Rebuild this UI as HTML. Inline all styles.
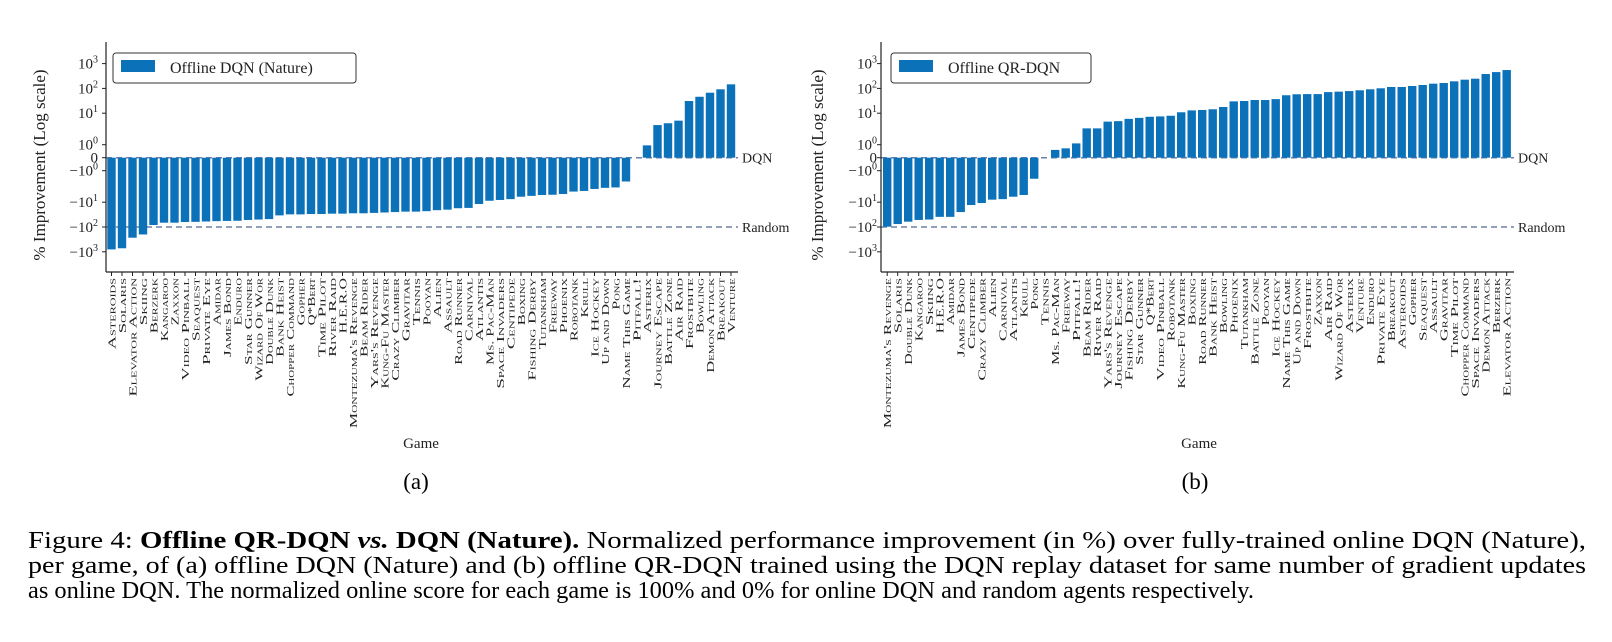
<!DOCTYPE html>
<html><head><meta charset="utf-8">
<style>
html,body{margin:0;padding:0;background:#fff;}
svg{display:block;font-family:"Liberation Serif",serif;}
</style></head>
<body>
<svg id="fig" width="1612" height="642" viewBox="0 0 1612 642" xmlns="http://www.w3.org/2000/svg">
  <g id="panelA"></g>
  <g id="panelB"></g>
  <text x="416" y="489" font-size="23" text-anchor="middle">(a)</text>
  <text x="1195" y="489" font-size="23" text-anchor="middle">(b)</text>
  <g font-size="24">
    <text x="28" y="548" textLength="1558" lengthAdjust="spacingAndGlyphs">Figure 4: <tspan font-weight="bold">Offline QR-DQN <tspan font-style="italic">vs.</tspan> DQN (Nature).</tspan> Normalized performance improvement (in %) over fully-trained online DQN (Nature),</text>
    <text x="28" y="573" textLength="1558" lengthAdjust="spacingAndGlyphs">per game, of (a) offline DQN (Nature) and (b) offline QR-DQN trained using the DQN replay dataset for same number of gradient updates</text>
    <text x="28" y="598" textLength="1226" lengthAdjust="spacingAndGlyphs">as online DQN. The normalized online score for each game is 100% and 0% for online DQN and random agents respectively.</text>
  </g>
</svg>
<script>
const gamesA = ["Asteroids","Solaris","Elevator Action","Skiing","Berzerk","Kangaroo","Zaxxon","Video Pinball","Seaquest","Private Eye","Amidar","James Bond","Enduro","Star Gunner","Wizard Of Wor","Double Dunk","Bank Heist","Chopper Command","Gopher","Q*Bert","Time Pilot","River Raid","H.E.R.O","Montezuma's Revenge","Beam Rider","Yars's Revenge","Kung-Fu Master","Crazy Climber","Gravitar","Tennis","Pooyan","Alien","Assault","Road Runner","Carnival","Atlantis","Ms. Pac-Man","Space Invaders","Centipede","Boxing","Fishing Derby","Tutankham","Freeway","Phoenix","Robotank","Krull","Ice Hockey","Up and Down","Pong","Name This Game","Pitfall!","Asterix","Journey Escape","Battle Zone","Air Raid","Frostbite","Bowling","Demon Attack","Breakout","Venture"];
const valuesA = [-800,-720,-270,-200,-83,-67,-67,-63,-62,-60,-58,-57,-56,-52,-50,-48,-34,-31,-31,-30,-30,-29,-29,-28,-28,-27,-26,-25,-24,-24,-23,-21,-20,-17.5,-17,-11.8,-9,-8.5,-8,-6.7,-6.3,-5.9,-5.8,-5.5,-4.6,-4.4,-3.8,-3.5,-3.4,-2.2,0,0.95,4.2,4.8,5.8,31,46,67,92,146];
const gamesB = ["Montezuma's Revenge","Solaris","Double Dunk","Kangaroo","Skiing","H.E.R.O","Amidar","James Bond","Centipede","Crazy Climber","Alien","Carnival","Atlantis","Krull","Pong","Tennis","Ms. Pac-Man","Freeway","Pitfall!","Beam Rider","River Raid","Yars's Revenge","Journey Escape","Fishing Derby","Star Gunner","Q*Bert","Video Pinball","Robotank","Kung-Fu Master","Boxing","Road Runner","Bank Heist","Bowling","Phoenix","Tutankham","Battle Zone","Pooyan","Ice Hockey","Name This Game","Up and Down","Frostbite","Zaxxon","Air Raid","Wizard Of Wor","Asterix","Venture","Enduro","Private Eye","Breakout","Asteroids","Gopher","Seaquest","Assault","Gravitar","Time Pilot","Chopper Command","Space Invaders","Demon Attack","Berzerk","Elevator Action"];
const valuesB = [-97,-76,-61,-52,-50,-39,-39,-25,-13,-10.8,-8.3,-8,-6.7,-5.9,-1.8,0,0.6,0.72,1.1,3.3,3.3,5.4,5.6,6.6,7.1,7.7,7.9,8.3,10.9,13,13.5,14.4,17.8,30,31,34,34,37,53,58,59,59,71,74,78,84,92,101,114,114,125,137,155,165,193,225,246,380,455,550];
const yTickVals = [1000,100,10,1,0,-1,-10,-100,-1000];
const yTickExp = ["3","2","1","0","","0","1","2","3"];

const NS = "http://www.w3.org/2000/svg";
const Y0 = 157.7, YTOP = 42, YBOT = 272;
const BAR = "#0b72ba", DASH = "#6f80a6";

function yPix(v){
  const a = Math.abs(v);
  let h;
  if (a <= 1) h = 13*a;
  else if (a <= 10) h = 13 + 31.5*Math.log10(a);
  else h = 44.5 + 24.8*(Math.log10(a)-1);
  return Y0 - Math.sign(v)*h;
}
function mk(tag, attrs, parent){
  const e = document.createElementNS(NS, tag);
  for (const k in attrs) e.setAttribute(k, attrs[k]);
  parent.appendChild(e);
  return e;
}

function drawPanel(g, games, values, cfg){
  const xPix = i => cfg.c0 + cfg.pitch*i;
  const dl = mk("line", {x1:cfg.spine, x2:cfg.xEnd, y1:Y0, y2:Y0, stroke:DASH, "stroke-width":1.5, "stroke-dasharray":"6,4"}, g);
  
  
  const rl = mk("line", {x1:cfg.spine, x2:cfg.xEnd, y1:yPix(-100), y2:yPix(-100), stroke:DASH, "stroke-width":1.5, "stroke-dasharray":"6,4"}, g);
  
  
  values.forEach((v, i) => {
    const yv = yPix(v);
    const b = mk("rect", {x:xPix(i)-4.2, width:8.4, y:Math.min(yv, Y0), height:Math.abs(yv-Y0), fill:BAR}, g);
    
    
  });
  const ys = mk("line", {x1:cfg.spine, x2:cfg.spine, y1:YTOP, y2:YBOT, stroke:"#222", "stroke-width":1.2}, g);
  
  
  const xs = mk("line", {x1:cfg.spine, x2:cfg.xEnd, y1:YBOT, y2:YBOT, stroke:"#222", "stroke-width":1.2}, g);
  
  
  yTickVals.forEach((v, k) => {
    const y = yPix(v);
    const tk = mk("line", {x1:cfg.spine-4, x2:cfg.spine, y1:y, y2:y, stroke:"#222", "stroke-width":1}, g);
    
    
    const t = mk("text", {x:cfg.tickRight, y:y+5, "font-size":15, "text-anchor":"end", fill:"#222"}, g);
    
    
    if (v === 0) { t.textContent = "0"; }
    else {
      const base = mk("tspan", {}, t);
      base.textContent = (v < 0 ? "\u2212" : "") + "10";
      const sup = mk("tspan", {dy:-6, "font-size":10}, t);
      sup.textContent = yTickExp[k];
    }
  });
  games.forEach((name, i) => {
    const x = xPix(i);
    const tk = mk("line", {x1:x, x2:x, y1:YBOT, y2:YBOT+4, stroke:"#222", "stroke-width":1}, g);
    
    
    const t = mk("text", {transform:"translate(" + (x+3.8) + "," + (YBOT+6) + ") rotate(-90)", "font-size":10.5, "text-anchor":"end", "font-variant":"small-caps", fill:"#222", textLength:(name.length*7.9).toFixed(1), lengthAdjust:"spacingAndGlyphs"}, g);
    
    
    t.textContent = name;
  });
  const dq = mk("text", {x:cfg.xEnd+4, y:Y0+5, "font-size":14, fill:"#222"}, g);
  
  
  dq.textContent = "DQN";
  const rd = mk("text", {x:cfg.xEnd+4, y:yPix(-100)+5, "font-size":14, fill:"#222"}, g);
  
  
  rd.textContent = "Random";
  const yt = mk("text", {transform:"translate(" + cfg.yTitleX + ",165) rotate(-90)", "font-size":17, "text-anchor":"middle", fill:"#222"}, g);
  
  
  yt.textContent = "% Improvement (Log scale)";
  const xt = mk("text", {x:cfg.xTitleX, y:448, "font-size":15, "text-anchor":"middle", fill:"#222"}, g);
  
  
  xt.textContent = "Game";
  const lg = mk("g", {}, g);
  
  
  const lb = mk("rect", {x:cfg.lgX, y:53, width:cfg.lgW, height:30, rx:3, fill:"#fff", stroke:"#333", "stroke-width":1}, lg);
  
  
  const lp = mk("rect", {x:cfg.lgX+8, y:60, width:34, height:12, fill:BAR}, lg);
  
  
  const lt = mk("text", {x:cfg.lgX+57, y:73, "font-size":16, fill:"#222"}, lg);
  
  
  lt.textContent = cfg.legend;
}

drawPanel(document.getElementById("panelA"), gamesA, valuesA,
  {spine:106, c0:111.5, pitch:10.5, xEnd:738, tickRight:98, yTitleX:45, xTitleX:421, lgX:113, lgW:243, legend:"Offline DQN (Nature)"});
drawPanel(document.getElementById("panelB"), gamesB, valuesB,
  {spine:881, c0:887.2, pitch:10.5, xEnd:1514, tickRight:877, yTitleX:823, xTitleX:1199, lgX:891, lgW:200, legend:"Offline QR-DQN"});
</script>
</body></html>
